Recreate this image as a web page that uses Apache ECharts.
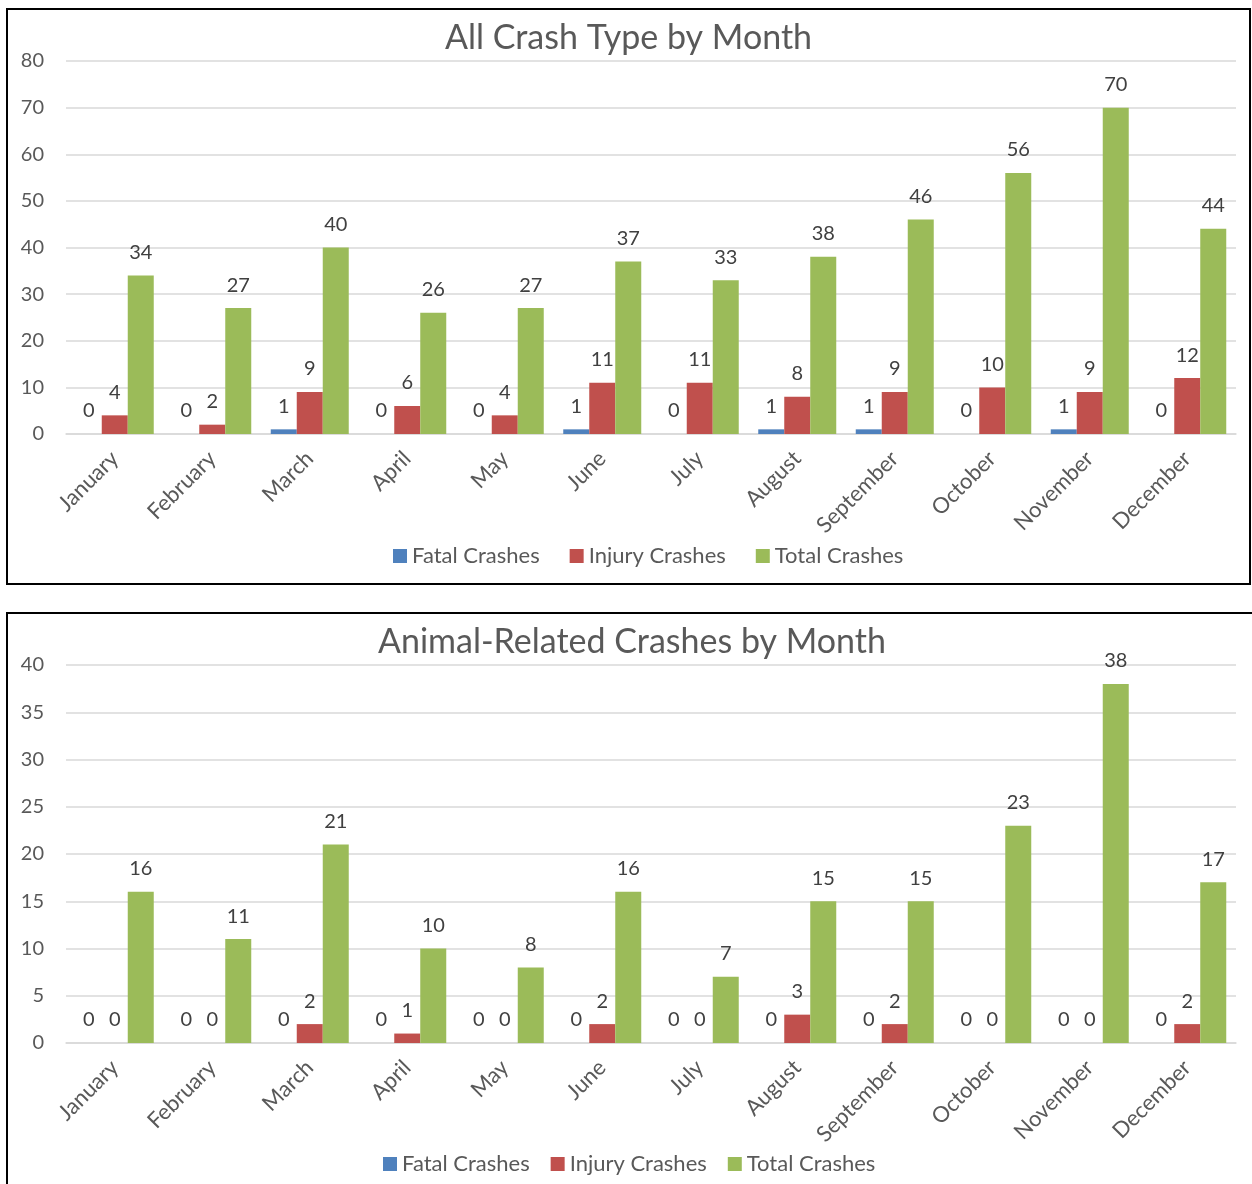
<!doctype html>
<html lang="en">
<head>
<meta charset="UTF-8">
<title>Crashes by Month</title>
<style>
    body { margin: 0; background: #fff; }
    .box { position: absolute; border: 2px solid #000; box-sizing: border-box; background: #fff; }
    #chart1 { left: 6px; top: 8px; width: 1245px; height: 577px; }
    #chart2 { left: 6px; top: 612px; width: 1250px; height: 580px; border-right: none; }
</style>
</head>
<body>
<div id="chart1" class="box"></div>
<div id="chart2" class="box"></div>
<script src="https://cdn.jsdelivr.net/npm/echarts@6/dist/echarts.min.js"></script>
<script>
    var months = ['January','February','March','April','May','June','July','August','September','October','November','December'];
    var seriesNames = ['Fatal Crashes', 'Injury Crashes', 'Total Crashes'];
    var colors = ['#4F81BD', '#C0504D', '#9BBB59'];

    // All crash types
    var allFatal  = [0, 0, 1, 0, 0, 1, 0, 1, 1, 0, 1, 0];
    var allInjury = [4, 2, 9, 6, 4, 11, 11, 8, 9, 10, 9, 12];
    var allTotal  = [34, 27, 40, 26, 27, 37, 33, 38, 46, 56, 70, 44];

    // Animal-related
    var animalFatal  = [0, 0, 0, 0, 0, 0, 0, 0, 0, 0, 0, 0];
    var animalInjury = [0, 0, 2, 1, 0, 2, 0, 3, 2, 0, 0, 2];
    var animalTotal  = [16, 11, 21, 10, 8, 16, 7, 15, 15, 23, 38, 17];

    var font = 'Lato, "Open Sans", sans-serif';

    function makeOption(title, data, yMax, yInterval, gridRight, gridBottom, legendLeft, legendBottom, legendGap) {
        return {
            animation: false,
            textStyle: { fontFamily: font },
            title: {
                text: title,
                left: 'center',
                top: 6,
                textStyle: { fontSize: 34, fontWeight: 'normal', color: '#595959', fontFamily: font }
            },
            legend: {
                data: seriesNames,
                left: legendLeft,
                bottom: legendBottom,
                itemWidth: 14,
                itemHeight: 14,
                itemGap: legendGap,
                icon: 'rect',
                textStyle: { fontSize: 22, color: '#595959', fontFamily: font }
            },
            grid: { left: 58, right: gridRight, top: 51, bottom: gridBottom },
            xAxis: {
                type: 'category',
                data: months,
                axisLine: { lineStyle: { color: '#d9d9d9', width: 1.5 } },
                axisTick: { show: false },
                axisLabel: { rotate: 45, fontSize: 22, color: '#595959', margin: 21, interval: 0, fontFamily: font }
            },
            yAxis: {
                type: 'value',
                min: 0,
                max: yMax,
                interval: yInterval,
                axisLine: { show: false },
                axisTick: { show: false },
                axisLabel: { fontSize: 20, color: '#595959', margin: 22, fontFamily: font },
                splitLine: { lineStyle: { color: '#d9d9d9', width: 1.5 } }
            },
            series: data.map(function (d, i) {
                return {
                    name: seriesNames[i],
                    type: 'bar',
                    data: d,
                    barWidth: 26,
                    barGap: '0%',
                    itemStyle: { color: colors[i] },
                    label: {
                        show: true,
                        position: 'top',
                        distance: 13,
                        fontSize: 20,
                        color: '#404040',
                        fontFamily: font
                    }
                };
            })
        };
    }

    var c1 = echarts.init(document.getElementById('chart1'));
    c1.setOption(makeOption('All Crash Type by Month', [allFatal, allInjury, allTotal], 80, 10, 13, 149, 380, 11, 30));

    var c2 = echarts.init(document.getElementById('chart2'));
    c2.setOption(makeOption('Animal-Related Crashes by Month', [animalFatal, animalInjury, animalTotal], 40, 5, 20, 147, 370, 10, 21));
</script>
</body>
</html>
